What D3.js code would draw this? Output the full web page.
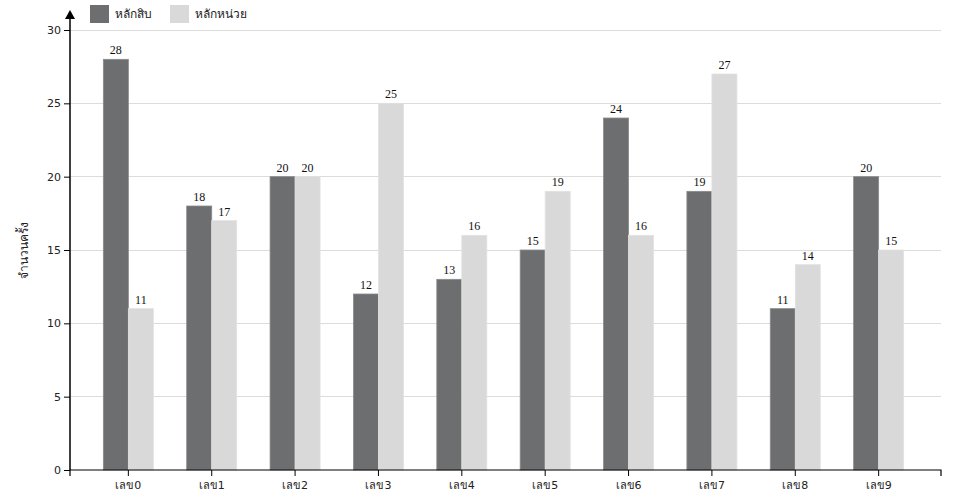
<!DOCTYPE html>
<html><head><meta charset="utf-8">
<script src="https://cdn.jsdelivr.net/npm/d3@7"></script>
<style>body{margin:0;background:#fff}svg{display:block}</style>
</head><body>
<svg id="c" width="960" height="500"></svg>
<script>
const categories = ["เลข0","เลข1","เลข2","เลข3","เลข4","เลข5","เลข6","เลข7","เลข8","เลข9"];
const seriesNames = ["หลักสิบ","หลักหน่วย"];
const tens  = [28,18,20,12,13,15,24,19,11,20];
const units = [11,17,20,25,16,19,16,27,14,15];
const yTicks = [0,5,10,15,20,25,30];
const colors = ["#6d6e70","#d9d9d9"];

const svg = d3.select("#c");
const x0 = 70, x1 = 937, yTop = 30, yBot = 470;
const x = d3.scaleBand().domain(categories).range([x0, x1]).paddingInner(0.4).paddingOuter(0.4);
const xs = d3.scaleBand().domain(seriesNames).range([0, x.bandwidth()]);
const y = d3.scaleLinear().domain([0,30]).range([yBot, yTop]);

// grid
svg.append("g").selectAll("line").data(yTicks.filter(d=>d>0)).join("line")
  .attr("x1", x0).attr("x2", 941).attr("y1", d=>y(d)).attr("y2", d=>y(d))
  .attr("stroke", "#dcdcdc").attr("stroke-width", 1).attr("shape-rendering","crispEdges");

// bars
const rows = categories.map((c,i)=>({c, vals:[tens[i], units[i]]}));
const g = svg.append("g");
rows.forEach(r=>{
  r.vals.forEach((v,k)=>{
    g.append("rect").attr("x", x(r.c)+xs(seriesNames[k])).attr("y", y(v))
      .attr("width", xs.bandwidth()).attr("height", yBot - y(v))
      .attr("fill", colors[k]).attr("stroke", k===0?"#8a8a8a":"#e2e2e2").attr("stroke-width",0.8);
    g.append("text").attr("x", x(r.c)+xs(seriesNames[k])+xs.bandwidth()/2).attr("y", y(v)-5)
      .attr("text-anchor","middle").attr("font-family","'Liberation Serif', serif").attr("font-size",12)
      .attr("fill","#111").text(v);
  });
});

// y axis
const ya = svg.append("g").attr("transform",`translate(${x0},0)`)
  .call(d3.axisLeft(y).tickValues(yTicks).tickSize(6).tickSizeOuter(0));
ya.select(".domain").remove();
ya.selectAll("text").attr("font-family","'DejaVu Sans', sans-serif").attr("font-size",11).attr("fill","#222");
svg.append("line").attr("x1",x0).attr("x2",x0).attr("y1",yBot).attr("y2",18).attr("stroke","#000").attr("stroke-width",1.5);
svg.append("path").attr("d",`M${x0-5},19L${x0+5},19L${x0},10Z`).attr("fill","#000");

// x axis
const xa = svg.append("g").attr("transform",`translate(0,${yBot})`)
  .call(d3.axisBottom(x).tickSize(6).tickSizeOuter(6));
xa.select(".domain").attr("d",`M${x0},6V0H941V6`).attr("stroke-width",1.2);
xa.selectAll("text").attr("font-family","'DejaVu Sans', sans-serif").attr("font-size",11).attr("fill","#222").attr("dy","0.9em");

// y label
svg.append("text").attr("transform","translate(28,250) rotate(-90)").attr("text-anchor","middle")
  .attr("font-family","'DejaVu Sans', sans-serif").attr("font-size",12).attr("fill","#222").text("จำนวนครั้ง");

// legend
const lg = svg.append("g");
const lx = [90, 170];
seriesNames.forEach((n,k)=>{
  lg.append("rect").attr("x",lx[k]).attr("y",5).attr("width",19).attr("height",18).attr("fill",colors[k]);
  lg.append("text").attr("x",lx[k]+25).attr("y",18).attr("font-family","'DejaVu Sans', sans-serif")
    .attr("font-size",12).attr("fill","#222").text(n);
});
</script>
</body></html>
